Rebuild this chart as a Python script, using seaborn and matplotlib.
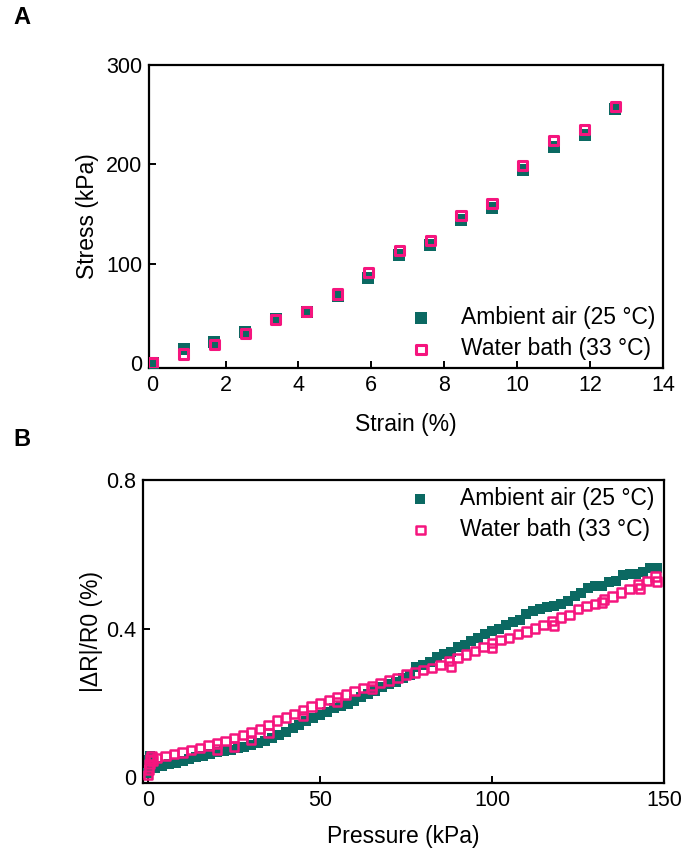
import numpy as np
import pandas as pd
import matplotlib
matplotlib.use("Agg")
import matplotlib.pyplot as plt
import seaborn as sns

# ---------------- Data ----------------
# Panel A: stress-strain
strain = [0.0, 0.85, 1.69, 2.54, 3.38, 4.23, 5.08, 5.92, 6.77, 7.62, 8.46, 9.31,
          10.15, 11.0, 11.85, 12.69]
stress_air = [0, 14, 21, 31, 44, 51, 67, 86, 109, 119, 144, 156, 194, 217, 230, 256]
stress_water = [0, 9, 19, 29.5, 44, 51.5, 69.5, 91, 113.5, 123, 148.5, 160.5, 199, 224, 235, 258.5]

# Panel B: relative resistance change vs pressure
pressure_air = [0, 0.3, 0.6, 1.0,
                2, 4, 6, 8, 10, 12, 14, 16, 18, 20,
                22, 24, 26, 28, 30, 32, 34, 36, 38, 40,
                42, 44, 46, 48, 50, 52, 54, 56, 58, 60,
                62, 64, 66, 68, 70, 72, 74, 76, 78, 80,
                82, 84, 86, 88, 90, 92, 94, 96, 98, 100,
                102, 104, 106, 108, 110, 112, 114, 116, 118, 120,
                122, 124, 126, 128, 130, 132, 134, 136, 138, 140,
                142, 144, 146, 148]
dr_air = [0.012, 0.045, 0.058, 0.030,
          0.024, 0.029, 0.034, 0.037, 0.043, 0.048, 0.054, 0.058, 0.062, 0.068,
          0.071, 0.074, 0.077, 0.081, 0.085, 0.092, 0.098, 0.106, 0.113, 0.121,
          0.131, 0.140, 0.150, 0.158, 0.167, 0.176, 0.185, 0.192, 0.198, 0.206,
          0.216, 0.225, 0.232, 0.242, 0.250, 0.256, 0.266, 0.276, 0.296, 0.302,
          0.310, 0.322, 0.332, 0.338, 0.349, 0.355, 0.366, 0.375, 0.386, 0.394,
          0.398, 0.410, 0.418, 0.424, 0.438, 0.446, 0.452, 0.457, 0.461, 0.467,
          0.474, 0.488, 0.496, 0.508, 0.514, 0.515, 0.524, 0.528, 0.543, 0.546,
          0.546, 0.552, 0.563, 0.563]

pressure_water = [0, 0.2, 0.4, 0.7, 1.0, 1.4,
                  2.5, 5, 7.5, 10, 12.5, 15, 17.5, 20, 22.5, 25,
                  27.5, 30, 32.5, 35, 37.5, 40, 42.5, 45, 47.5, 50,
                  52.5, 55, 57.5, 60, 62.5, 65, 67.5, 70, 72.5, 75,
                  77.5, 80, 82.5, 85, 87.5, 90, 92.5, 95, 97.5, 100,
                  102.5, 105, 107.5, 110, 112.5, 115, 117.5, 120, 122.5, 125,
                  127.5, 130, 132.5, 135, 137.5, 140, 142.5, 145, 147.5,
                  20, 25, 30, 35, 45, 55, 65, 88, 100, 118, 132, 143, 148]
dr_water = [0.005, 0.020, 0.035, 0.048, 0.055, 0.045,
            0.052, 0.056, 0.062, 0.066, 0.072, 0.078, 0.085, 0.090, 0.098, 0.106,
            0.114, 0.120, 0.130, 0.140, 0.152, 0.160, 0.170, 0.180, 0.190, 0.198,
            0.207, 0.215, 0.222, 0.231, 0.240, 0.246, 0.253, 0.260, 0.266, 0.276,
            0.282, 0.289, 0.294, 0.302, 0.312, 0.320, 0.330, 0.340, 0.350, 0.361,
            0.370, 0.374, 0.385, 0.392, 0.400, 0.410, 0.420, 0.430, 0.437, 0.452,
            0.460, 0.466, 0.478, 0.486, 0.497, 0.506, 0.519, 0.528, 0.540,
            0.074, 0.082, 0.100, 0.118, 0.165, 0.203, 0.238, 0.298, 0.347, 0.408,
            0.470, 0.508, 0.527]

label_air = "Ambient air (25 °C)"
label_water = "Water bath (33 °C)"

teal = "#0b6962"
pink = "#f5157e"

# ---------------- Style ----------------
sns.set_theme(style="ticks")
plt.rcParams["font.family"] = ["Liberation Sans", "DejaVu Sans"]
plt.rcParams["text.color"] = "black"
plt.rcParams["axes.labelcolor"] = "black"
plt.rcParams["xtick.color"] = "black"
plt.rcParams["ytick.color"] = "black"
plt.rcParams["axes.linewidth"] = 1.6
plt.rcParams["xtick.direction"] = "in"
plt.rcParams["ytick.direction"] = "in"

W, H = 686, 856
fig = plt.figure(figsize=(W / 100, H / 100), dpi=100)

def fr(l, t, r, b):
    return [l / W, 1 - b / H, (r - l) / W, (b - t) / H]

axA = fig.add_axes(fr(149, 65, 663, 368))
axB = fig.add_axes(fr(143, 480, 664, 783))

tick_fs = 15.5
lab_fs = 16.5

# Panel A
sns.scatterplot(x=strain, y=stress_air, ax=axA, marker="s", s=72, color=teal,
                edgecolor=teal, linewidth=0, label=label_air, zorder=3)
sns.scatterplot(x=strain, y=stress_water, ax=axA, marker="s", s=44,
                facecolor="none", edgecolor=pink, linewidth=2.2,
                label=label_water, zorder=4)
axA.set_xlim(-0.1, 14)
axA.set_ylim(-5, 300)
axA.set_xticks(range(0, 15, 2))
axA.set_yticks([0, 100, 200, 300])
axA.set_xlabel("Strain (%)", fontsize=lab_fs, labelpad=12)
axA.set_ylabel("Stress (kPa)", fontsize=lab_fs, labelpad=5)
axA.legend(loc="lower right", frameon=False, fontsize=lab_fs,
           handletextpad=0.75, borderaxespad=0.0, labelspacing=0.35,
           bbox_to_anchor=(1.003, -0.005))

# Panel B
sns.scatterplot(x=pressure_air, y=dr_air, ax=axB, marker="s", s=48, color=teal,
                edgecolor=teal, linewidth=0, label=label_air, zorder=3)
sns.scatterplot(x=pressure_water, y=dr_water, ax=axB, marker="s", s=36,
                facecolor="none", edgecolor=pink, linewidth=1.8,
                label=label_water, zorder=4)
axB.set_xlim(-1.5, 150)
axB.set_ylim(-0.016, 0.8)
axB.set_xticks([0, 50, 100, 150])
axB.set_yticks([0, 0.4, 0.8])
axB.set_yticklabels(["0", "0.4", "0.8"])
axB.set_xlabel("Pressure (kPa)", fontsize=lab_fs, labelpad=10)
axB.set_ylabel("|ΔR|/R0 (%)", fontsize=lab_fs, labelpad=2)
axB.legend(loc="upper right", frameon=False, fontsize=lab_fs,
           handletextpad=0.75, borderaxespad=0.0, labelspacing=0.35,
           bbox_to_anchor=(1.0, 1.007))

for ax in (axA, axB):
    for sp in ax.spines.values():
        sp.set_visible(True)
        sp.set_color("black")
        sp.set_linewidth(1.6)
    ax.tick_params(axis="both", which="both", labelsize=tick_fs, length=5,
                   width=1.4, color="black", labelcolor="black",
                   top=False, right=False, pad=5)

fig.text(22 / W, 1 - 18 / H, "A", fontsize=17, fontweight="bold", ha="center", va="center")
fig.text(22 / W, 1 - 440 / H, "B", fontsize=17, fontweight="bold", ha="center", va="center")

fig.savefig("out.png", dpi=100)
